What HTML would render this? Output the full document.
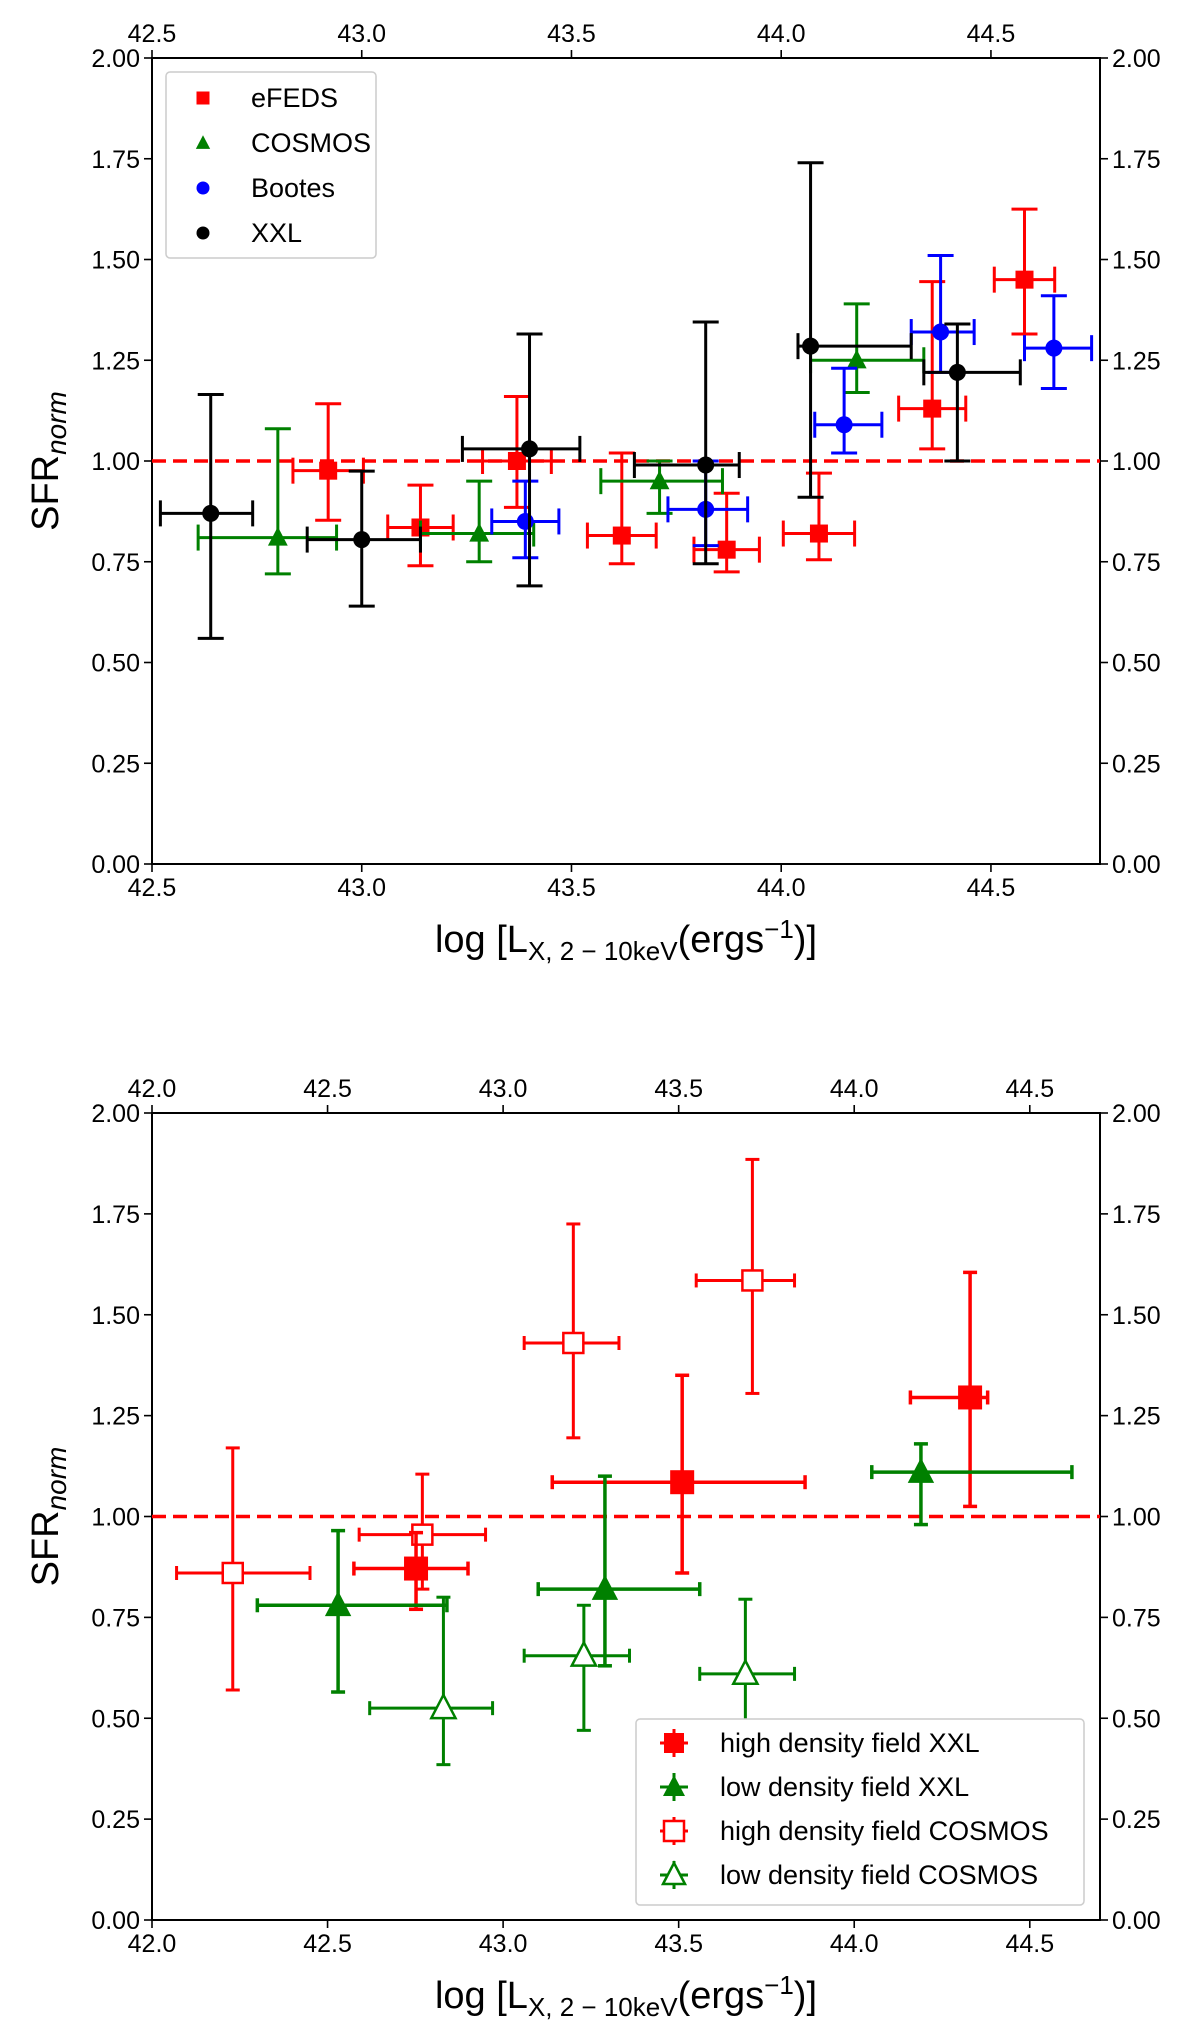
<!DOCTYPE html>
<html><head><meta charset="utf-8"><style>
body{margin:0;background:#fff}
svg text{font-family:"Liberation Sans","DejaVu Sans",sans-serif}
</style></head><body>
<svg id="fig" width="1200" height="2021" viewBox="0 0 1200 2021" xmlns="http://www.w3.org/2000/svg"></svg>
<script>
// ---- Top panel data ----
const efedsX=[42.92,43.14,43.37,43.62,43.87,44.09,44.36,44.58];
const efedsY=[0.976,0.835,1.0,0.815,0.78,0.82,1.13,1.45];
const efedsXerr=[0.084,0.078,0.082,0.082,0.078,0.085,0.08,0.072];
const efedsYlo=[0.853,0.74,0.885,0.745,0.725,0.755,1.03,1.315];
const efedsYhi=[1.142,0.94,1.16,1.02,0.92,0.97,1.445,1.625];
const cosmosX=[42.80,43.28,43.71,44.18];
const cosmosY=[0.81,0.82,0.95,1.25];
const cosmosXlo=[42.61,43.14,43.57,44.07];
const cosmosXhi=[42.94,43.41,43.86,44.34];
const cosmosYlo=[0.72,0.75,0.87,1.17];
const cosmosYhi=[1.08,0.95,1.0,1.39];
const bootesX=[43.39,43.82,44.15,44.38,44.65];
const bootesY=[0.85,0.88,1.09,1.32,1.28];
const bootesXlo=[43.31,43.73,44.08,44.31,44.58];
const bootesXhi=[43.47,43.92,44.24,44.46,44.74];
const bootesYlo=[0.76,0.79,1.02,1.22,1.18];
const bootesYhi=[0.95,1.0,1.23,1.51,1.41];
const xxlX=[42.64,43.0,43.40,43.82,44.07,44.42];
const xxlY=[0.87,0.805,1.03,0.99,1.285,1.22];
const xxlXlo=[42.52,42.87,43.24,43.65,44.04,44.34];
const xxlXhi=[42.74,43.14,43.52,43.90,44.31,44.57];
const xxlYlo=[0.56,0.64,0.69,0.745,0.91,1.0];
const xxlYhi=[1.165,0.975,1.315,1.345,1.74,1.34];
const topXTicks=[42.5,43.0,43.5,44.0,44.5];
const yTicks=[0,0.25,0.5,0.75,1.0,1.25,1.5,1.75,2.0];
// ---- Bottom panel data ----
const hxX=[42.752,43.51,44.33];
const hxY=[0.871,1.085,1.295];
const hxXlo=[42.575,43.14,44.16];
const hxXhi=[42.90,43.86,44.38];
const hxYlo=[0.77,0.86,1.025];
const hxYhi=[0.96,1.35,1.605];
const lxX=[42.53,43.29,44.19];
const lxY=[0.78,0.82,1.11];
const lxXlo=[42.30,43.10,44.05];
const lxXhi=[42.84,43.56,44.62];
const lxYlo=[0.565,0.63,0.98];
const lxYhi=[0.965,1.10,1.18];
const hcX=[42.23,42.77,43.20,43.71];
const hcY=[0.86,0.955,1.43,1.585];
const hcXlo=[42.07,42.59,43.06,43.55];
const hcXhi=[42.45,42.95,43.33,43.83];
const hcYlo=[0.57,0.82,1.195,1.305];
const hcYhi=[1.17,1.105,1.725,1.885];
const lcX=[42.83,43.23,43.69];
const lcY=[0.525,0.655,0.61];
const lcXlo=[42.62,43.06,43.56];
const lcXhi=[42.97,43.36,43.83];
const lcYlo=[0.385,0.47,0.48];
const lcYhi=[0.80,0.78,0.795];
const botXTicks=[42.0,42.5,43.0,43.5,44.0,44.5];

const NS="http://www.w3.org/2000/svg";
const svg=document.getElementById('fig');
function mk(tag,attrs,parent){const e=document.createElementNS(NS,tag);for(const k in attrs)e.setAttribute(k,attrs[k]);(parent||svg).appendChild(e);return e;}

function panel(name,L,R,T,B,x0,x1,xt){
  const g=mk('g',{});
  
  
  const sx=v=>L+(v-x0)/(x1-x0)*(R-L);
  const sy=v=>B-(v/2)*(B-T);
  mk('rect',{x:L,y:T,width:R-L,height:B-T,fill:'none',stroke:'#000','stroke-width':2},g);
  xt.forEach(v=>{
    const x=sx(v);
    mk('line',{x1:x,x2:x,y1:B,y2:B+8,stroke:'#000','stroke-width':1.6},g);
    mk('line',{x1:x,x2:x,y1:T,y2:T-8,stroke:'#000','stroke-width':1.6},g);
    const t1=mk('text',{x:x,y:B+32,'font-size':25,'text-anchor':'middle'},g);t1.textContent=v.toFixed(1);
    
    
    const t2=mk('text',{x:x,y:T-16,'font-size':25,'text-anchor':'middle'},g);t2.textContent=v.toFixed(1);
    
    
  });
  yTicks.forEach(v=>{
    const y=sy(v);
    mk('line',{x1:L,x2:L-8,y1:y,y2:y,stroke:'#000','stroke-width':1.6},g);
    mk('line',{x1:R,x2:R+8,y1:y,y2:y,stroke:'#000','stroke-width':1.6},g);
    const t1=mk('text',{x:L-12,y:y+9,'font-size':25,'text-anchor':'end'},g);t1.textContent=v.toFixed(2);
    
    
    const t2=mk('text',{x:R+12,y:y+9,'font-size':25,'text-anchor':'start'},g);t2.textContent=v.toFixed(2);
    
    
  });
  const ref=mk('line',{x1:L,x2:R,y1:sy(1),y2:sy(1),stroke:'#ff0000','stroke-width':3.5,'stroke-dasharray':'14,7'},g);
  
  
  const xl=mk('text',{x:(L+R)/2,y:B+88,'font-size':38,'text-anchor':'middle'},g);
  xl.innerHTML='log [L<tspan font-size="26" dy="8">X, 2 − 10keV</tspan><tspan dy="-8">(ergs</tspan><tspan font-size="26" dy="-14">−1</tspan><tspan dy="14">)]</tspan>';
  
  
  const yl=mk('text',{transform:`translate(58,${(T+B)/2}) rotate(-90)`,'font-size':38,'text-anchor':'middle'},g);
  yl.innerHTML='SFR<tspan font-size="28" font-style="italic" dy="8">norm</tspan>';
  
  
  return {g,sx,sy};
}

function marker(g,kind,x,y,s,color,fill){
  if(kind==='s') return mk('rect',{x:x-s/2,y:y-s/2,width:s,height:s,fill:fill?color:'#fff',stroke:color,'stroke-width':fill?0:2.5},g);
  if(kind==='t') return mk('polygon',{points:`${x},${y-s*0.6} ${x-s*0.55},${y+s*0.45} ${x+s*0.55},${y+s*0.45}`,fill:fill?color:'#fff',stroke:color,'stroke-width':fill?0:2.5},g);
  return mk('circle',{cx:x,cy:y,r:s/2,fill:color},g);
}

function series(P,name,X,Y,xlo,xhi,ylo,yhi,color,kind,size,fill,cap,sw){
  const g=mk('g',{},P.g);
  
  
  X.forEach((v,i)=>{
    const x=P.sx(v),y=P.sy(Y[i]);
    const a=P.sx(xlo[i]),b=P.sx(xhi[i]),c=P.sy(ylo[i]),d=P.sy(yhi[i]);
    const e=mk('g',{},g);
    
    
    const st={stroke:color,'stroke-width':sw};
    mk('line',Object.assign({x1:a,x2:b,y1:y,y2:y},st),e);
    mk('line',Object.assign({x1:x,x2:x,y1:c,y2:d},st),e);
    mk('line',Object.assign({x1:a,x2:a,y1:y-cap,y2:y+cap},st),e);
    mk('line',Object.assign({x1:b,x2:b,y1:y-cap,y2:y+cap},st),e);
    mk('line',Object.assign({x1:x-cap,x2:x+cap,y1:c,y2:c},st),e);
    mk('line',Object.assign({x1:x-cap,x2:x+cap,y1:d,y2:d},st),e);
    marker(e,kind,x,y,size,color,fill);
  });
}

// Top panel
const P1=panel('top-chart',152,1100,58,864,42.5,44.76,topXTicks);
const sym=(X,E,s)=>X.map((v,i)=>v+s*E[i]);
series(P1,'efeds-series',efedsX,efedsY,sym(efedsX,efedsXerr,-1),sym(efedsX,efedsXerr,1),efedsYlo,efedsYhi,'#ff0000','s',18,true,13,3);
series(P1,'cosmos-series',cosmosX,cosmosY,cosmosXlo,cosmosXhi,cosmosYlo,cosmosYhi,'#008000','t',18,true,13,3);
series(P1,'bootes-series',bootesX,bootesY,bootesXlo,bootesXhi,bootesYlo,bootesYhi,'#0000ff','c',17,true,13,3);
series(P1,'xxl-series',xxlX,xxlY,xxlXlo,xxlXhi,xxlYlo,xxlYhi,'#000000','c',17,true,13,3);

// top legend
(function(){
  const g=mk('g',{});
  
  
  mk('rect',{x:166,y:72,width:210,height:186,rx:4,fill:'#fff',stroke:'#ccc','stroke-width':1.5},g);
  const items=[['eFEDS','#ff0000','s'],['COSMOS','#008000','t'],['Bootes','#0000ff','c'],['XXL','#000','c']];
  items.forEach((it,i)=>{
    const y=98+i*45;
    const e=mk('g',{},g);
    
    
    marker(e,it[2],203,y,13,it[1],true);
    const t=mk('text',{x:251,y:y+9,'font-size':27},e);t.textContent=it[0];
  });
})();

// Bottom panel
const P2=panel('bottom-chart',152,1100,1113,1920,42.0,44.70,botXTicks);
series(P2,'high-density-cosmos-series',hcX,hcY,hcXlo,hcXhi,hcYlo,hcYhi,'#ff0000','s',20,false,7,3);
series(P2,'low-density-cosmos-series',lcX,lcY,lcXlo,lcXhi,lcYlo,lcYhi,'#008000','t',22,false,7,3);
series(P2,'high-density-xxl-series',hxX,hxY,hxXlo,hxXhi,hxYlo,hxYhi,'#ff0000','s',24,true,7,3.5);
series(P2,'low-density-xxl-series',lxX,lxY,lxXlo,lxXhi,lxYlo,lxYhi,'#008000','t',24,true,7,3.5);

(function(){
  const g=mk('g',{});
  
  
  mk('rect',{x:636,y:1719,width:448,height:186,rx:4,fill:'#fff',stroke:'#ccc','stroke-width':1.5},g);
  const items=[['high density field XXL','#ff0000','s',true],['low density field XXL','#008000','t',true],['high density field COSMOS','#ff0000','s',false],['low density field COSMOS','#008000','t',false]];
  items.forEach((it,i)=>{
    const y=1743+i*44;
    const e=mk('g',{},g);
    
    
    mk('line',{x1:660,x2:688,y1:y,y2:y,stroke:it[1],'stroke-width':3},e);
    mk('line',{x1:674,x2:674,y1:y-14,y2:y+14,stroke:it[1],'stroke-width':3},e);
    marker(e,it[2],674,y,20,it[1],it[3]);
    const t=mk('text',{x:720,y:y+9,'font-size':27},e);t.textContent=it[0];
  });
})();
</script>
</body></html>
